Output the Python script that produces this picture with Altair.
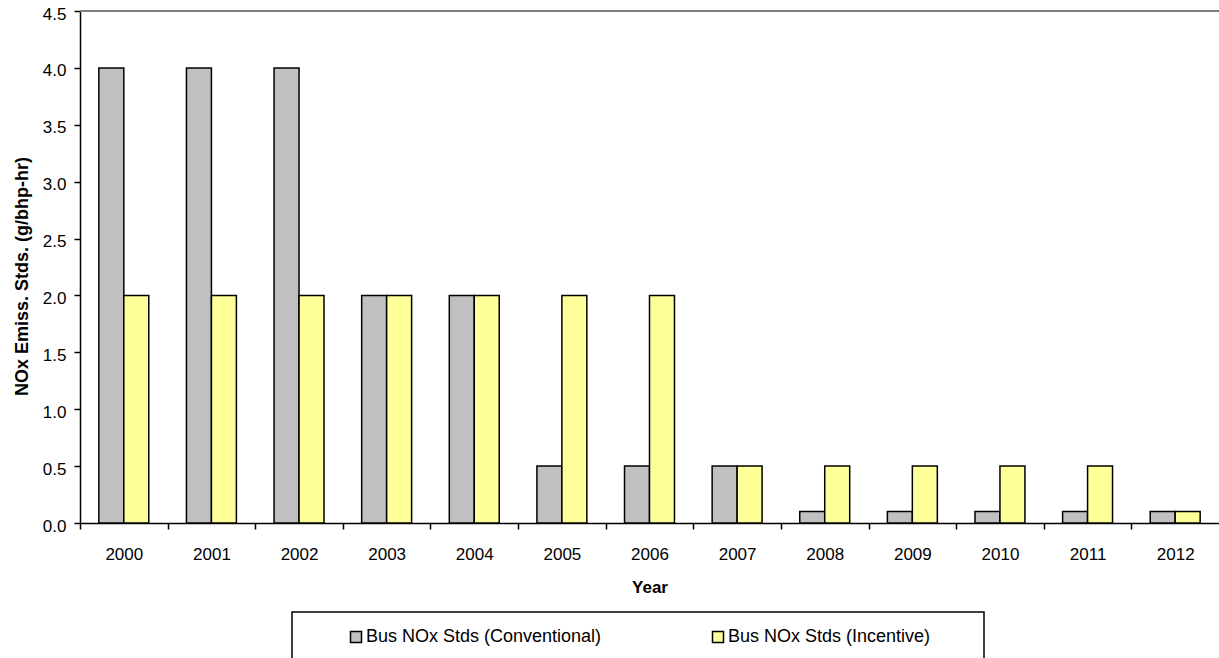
import altair as alt
import pandas as pd

# NOx emission standards for buses, by model year
years = ["2000", "2001", "2002", "2003", "2004", "2005", "2006",
         "2007", "2008", "2009", "2010", "2011", "2012"]
conventional = [4.0, 4.0, 4.0, 2.0, 2.0, 0.5, 0.5, 0.5, 0.1, 0.1, 0.1, 0.1, 0.1]
incentive = [2.0, 2.0, 2.0, 2.0, 2.0, 2.0, 2.0, 0.5, 0.5, 0.5, 0.5, 0.5, 0.1]
series = ["Bus NOx Stds (Conventional)", "Bus NOx Stds (Incentive)"]
series_colors = ["#C0C0C0", "#FFFF99"]
y_ticks = [0.0, 0.5, 1.0, 1.5, 2.0, 2.5, 3.0, 3.5, 4.0, 4.5]

rows = []
for yr, c, i in zip(years, conventional, incentive):
    rows.append({"Year": yr, "Series": series[0], "Value": c})
    rows.append({"Year": yr, "Series": series[1], "Value": i})
df = pd.DataFrame(rows)

FONT = "Liberation Sans"
PLOT_W = 1139
PAD_INNER = 0.43
PAD_OUTER = 0.215
# half of the gap between bands: moves ticks onto the category boundaries
step = PLOT_W / (len(years) - PAD_INNER + 2 * PAD_OUTER)
half_gap = step * PAD_INNER / 2

x_enc = alt.X(
    "Year:N",
    sort=years,
    scale=alt.Scale(paddingInner=PAD_INNER, paddingOuter=PAD_OUTER),
    axis=alt.Axis(
        title="Year",
        labelAngle=0,
        bandPosition=0,
        tickOffset=-half_gap,
        labelOffset=half_gap,
        tickSize=6,
        tickWidth=1.5,
        tickColor="black",
        domainColor="black",
        domainWidth=1.5,
        labelFontSize=17,
        labelFont=FONT,
        labelColor="black",
        labelBaseline="alphabetic",
        labelPadding=30,
        titleFont=FONT,
        titleFontSize=17,
        titleFontWeight="bold",
        titleColor="black",
        titleBaseline="alphabetic",
        titleY=69,
    ),
)

y_enc = alt.Y(
    "Value:Q",
    scale=alt.Scale(domain=[0, 4.5], nice=False),
    axis=alt.Axis(
        title="NOx Emiss. Stds. (g/bhp-hr)",
        values=y_ticks,
        format=".1f",
        grid=False,
        tickSize=6,
        tickWidth=1.5,
        tickColor="black",
        domainColor="black",
        domainWidth=1.5,
        labelFontSize=17,
        labelFont=FONT,
        labelColor="black",
        labelPadding=8,
        labelOffset=3,
        titleFont=FONT,
        titleFontSize=18,
        titleFontWeight="bold",
        titleColor="black",
        titleBaseline="alphabetic",
        titleAngle=270,
        titleX=-53,
        titleY=265,
    ),
)

bars = alt.Chart(df).mark_bar(stroke="black", strokeWidth=1.5).encode(
    x=x_enc,
    xOffset=alt.XOffset("Series:N", sort=series),
    y=y_enc,
    color=alt.Color(
        "Series:N",
        sort=series,
        scale=alt.Scale(domain=series, range=series_colors),
        legend=alt.Legend(
            title=None,
            orient="none",
            legendX=267,
            legendY=617,
            direction="horizontal",
            columns=2,
            columnPadding=107,
            symbolType="square",
            symbolSize=121,
            symbolStrokeColor="black",
            symbolStrokeWidth=1.5,
            labelFont=FONT,
            labelFontSize=18,
            labelColor="black",
            labelOffset=1,
            labelLimit=400,
            padding=0,
        ),
    ),
)

# grey frame line along the top of the plot area
top_line = alt.Chart(df).mark_rule(color="#808080", strokeWidth=2).encode(
    y=alt.datum(4.5)
)

# frame around the legend
legend_box = alt.Chart(alt.Data(values=[{"box": 1}])).mark_rect(
    fill="transparent", stroke="black", strokeWidth=1.5
).encode(
    x=alt.value(212), x2=alt.value(904), y=alt.value(601), y2=alt.value(690)
)

chart = alt.layer(top_line, bars, legend_box).properties(
    width=PLOT_W,
    height=512,
    padding={"left": 80, "top": 11, "right": 0, "bottom": 135},
    autosize=alt.AutoSizeParams(type="none"),
    background="white",
).configure_view(stroke=None)

chart.save("out.html", embed_options={"renderer": "svg", "actions": False})
